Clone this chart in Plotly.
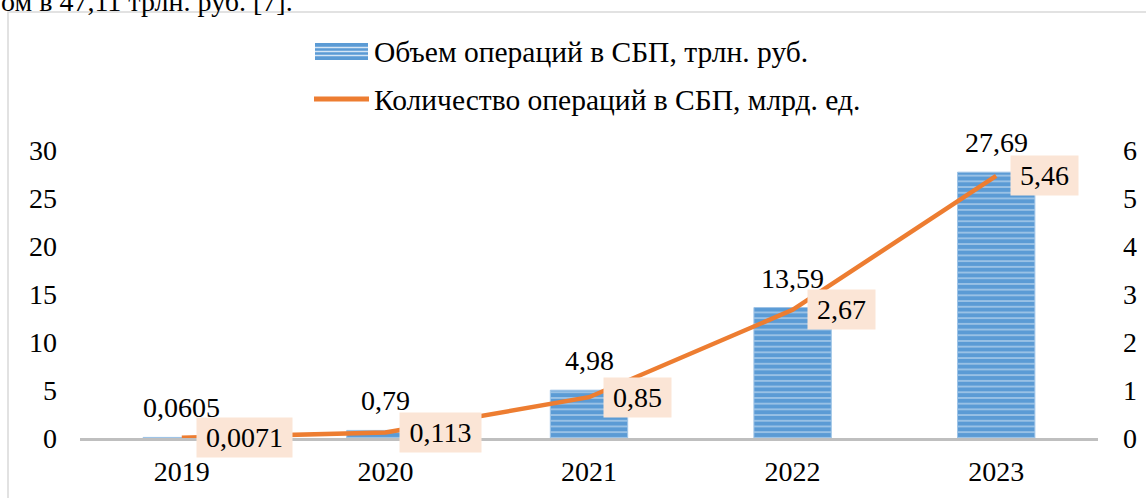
import plotly.graph_objects as go

# ---- data ----
years = ["2019", "2020", "2021", "2022", "2023"]
volume_trln = [0.0605, 0.79, 4.98, 13.59, 27.69]      # Объем операций, трлн. руб.
count_bln = [0.0071, 0.113, 0.85, 2.67, 5.46]         # Количество операций, млрд. ед.
left_ticks = [0, 5, 10, 15, 20, 25, 30]
right_ticks = [0, 1, 2, 3, 4, 5, 6]
name_volume = "Объем операций в СБП, трлн. руб."
name_count = "Количество операций в СБП, млрд. ед."
top_text = "ом в 47,11 трлн. руб. [7]."

W, H = 1146, 498
ML, MR, MT, MB = 80, 48, 150, 60
PW, PH = W - ML - MR, H - MT - MB
FONT = "Liberation Serif"
FS = 28
BLUE = "#5B9BD5"
ORANGE = "#ED7D31"


def px(x):
    return (x - ML) / PW


def py(y):
    return (H - MB - y) / PH


def fmt(v):
    return str(v).replace(".", ",")


def text_w(s):
    return sum(FS * 0.5 if c.isdigit() else FS * 0.25 for c in s)


fig = go.Figure()
fig.add_trace(go.Bar(
    x=years, y=volume_trln, name=name_volume, yaxis="y",
    marker=dict(color=BLUE, line=dict(color="#9DC3E6", width=1),
                pattern=dict(shape="-", fillmode="overlay", bgcolor=BLUE,
                             fgcolor="white", size=5.7, solidity=0.25)),
    showlegend=False,
))
fig.add_trace(go.Scatter(
    x=years, y=count_bln, name=name_count, yaxis="y2", mode="lines",
    line=dict(color=ORANGE, width=4.5), cliponaxis=False, showlegend=False,
))

ann = []
for i, v in enumerate(volume_trln):
    ann.append(dict(x=i, y=v, xref="x", yref="y", text=fmt(v), showarrow=False,
                    yanchor="bottom", yshift=12, font=dict(family=FONT, size=FS, color="black")))
for i, v in enumerate(count_bln):
    t = fmt(v)
    ann.append(dict(x=i, y=v, xref="x", yref="y2", text=t, showarrow=False,
                    xanchor="left", yanchor="middle", xshift=14, bgcolor="#FBE5D6",
                    borderpad=4, width=text_w(t) + 10, align="center",
                    font=dict(family=FONT, size=FS, color="black")))
# legend text
ann.append(dict(x=px(372), y=py(52), xref="paper", yref="paper", text=name_volume,
                showarrow=False, xanchor="left", yanchor="middle",
                font=dict(family=FONT, size=29.5, color="black")))
ann.append(dict(x=px(372), y=py(100), xref="paper", yref="paper", text=name_count,
                showarrow=False, xanchor="left", yanchor="middle",
                font=dict(family=FONT, size=29.5, color="black")))
# cut-off document text at the very top
ann.append(dict(x=px(-1), y=py(1), xref="paper", yref="paper", text=top_text,
                showarrow=False, xanchor="left", yanchor="middle",
                font=dict(family=FONT, size=FS, color="black")))

shapes = [
    # frame
    dict(type="rect", xref="paper", yref="paper", x0=px(8), x1=px(1170), y0=py(12), y1=py(540),
         line=dict(color="#D9D9D9", width=1.5), fillcolor="rgba(0,0,0,0)", layer="below"),
    # legend swatch: bars
    dict(type="rect", xref="paper", yref="paper", x0=px(315), x1=px(368), y0=py(43), y1=py(60),
         line=dict(width=0), fillcolor=BLUE),
    # legend swatch: line
    dict(type="line", xref="paper", yref="paper", x0=px(314), x1=px(369), y0=py(99), y1=py(99),
         line=dict(color=ORANGE, width=5)),
]
for s in (47.5, 51.5, 55.5):
    shapes.append(dict(type="line", xref="paper", yref="paper", x0=px(315), x1=px(368),
                       y0=py(s), y1=py(s), line=dict(color="rgba(255,255,255,0.75)", width=1.3)))

fig.update_layout(
    width=W, height=H, autosize=False,
    margin=dict(l=ML, r=MR, t=MT, b=MB, autoexpand=False),
    paper_bgcolor="white", plot_bgcolor="white",
    bargap=0.62,
    font=dict(family=FONT, size=FS, color="black"),
    xaxis=dict(type="category", range=[-0.5, 4.5], showline=True, linecolor="#BFBFBF",
               linewidth=3, ticks="", showgrid=False, ticklabelstandoff=6, automargin=False,
               tickfont=dict(family=FONT, size=FS, color="black")),
    yaxis=dict(range=[0, 30], tickvals=left_ticks, showgrid=False, zeroline=False,
               showline=False, ticks="", ticklabelstandoff=22, automargin=False,
               tickfont=dict(family=FONT, size=FS, color="black")),
    yaxis2=dict(range=[0, 6], tickvals=right_ticks, overlaying="y", side="right",
                showgrid=False, zeroline=False, showline=False, ticks="", automargin=False,
                ticklabelstandoff=24, tickfont=dict(family=FONT, size=FS, color="black")),
    annotations=ann, shapes=shapes, showlegend=False,
)

fig.write_html(
    "out.html",
    config={"displayModeBar": False},
    post_script="document.body.style.margin='0';document.body.style.overflow='hidden';",
)
